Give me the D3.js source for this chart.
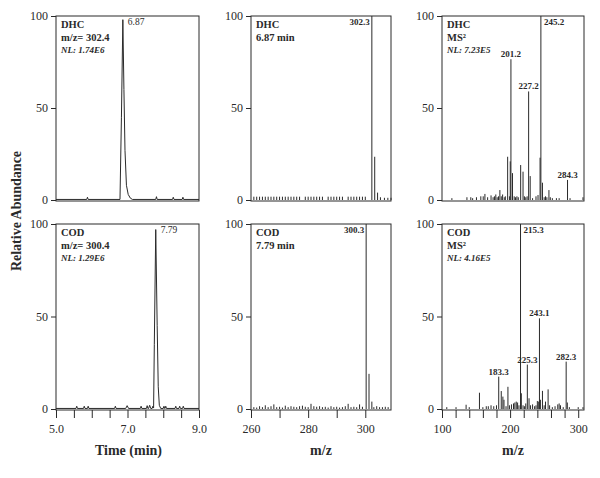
<!DOCTYPE html>
<html>
<head>
<meta charset="utf-8">
<script src="https://cdn.jsdelivr.net/npm/d3@7"></script>
<style>
  body { margin: 0; background: #fff; }
  svg { font-family: "Liberation Serif", "DejaVu Serif", serif; }
</style>
</head>
<body>
<svg width="600" height="478"></svg>
<script>
// chromatograms: [time (min), relative abundance]
const dhcChrom = [
  [5.0, 0.3], [5.86, 0.3], [5.88, 1.5], [5.90, 0.3], [6.79, 0.3], [6.83, 45], [6.87, 98],
  [6.90, 60], [6.93, 27], [6.97, 8], [7.02, 3], [7.08, 1], [7.14, 0.3], [7.79, 0.3],
  [7.81, 1.8], [7.83, 0.3], [8.26, 0.3], [8.28, 1.5], [8.30, 0.3], [8.53, 0.3], [8.55, 1.5],
  [8.57, 0.3], [9.0, 0.3]
];
const codChrom = [
  [5.0, 0.3], [5.56, 0.3], [5.58, 1.5], [5.60, 0.3], [5.77, 0.3], [5.79, 1.5], [5.81, 0.3],
  [5.88, 0.3], [5.90, 1.5], [5.92, 0.3], [6.64, 0.3], [6.66, 1.5], [6.68, 0.3], [6.95, 0.3],
  [6.99, 1.8], [7.03, 0.3], [7.36, 0.3], [7.38, 1.5], [7.40, 0.3], [7.53, 0.3], [7.55, 1.8],
  [7.57, 0.3], [7.59, 0.3], [7.62, 2], [7.65, 0.3], [7.69, 0.3], [7.71, 1.5], [7.73, 0.5],
  [7.75, 35], [7.79, 97], [7.83, 45], [7.86, 12], [7.89, 2], [7.93, 0.3], [8.00, 0.3],
  [8.02, 1.5], [8.04, 0.3], [8.05, 0.3], [8.07, 1.5], [8.09, 0.3], [8.33, 0.3], [8.35, 1.5],
  [8.37, 0.3], [8.44, 0.3], [8.46, 1.5], [8.48, 0.3], [8.54, 0.3], [8.56, 1.5], [8.58, 0.3],
  [9.0, 0.3]
];

// full scan spectra: m/z and relative abundance
const dhcMsMz = [261, 262, 263, 264, 265, 266, 267, 268, 269, 270, 271, 272, 273, 274, 275, 276, 277,
  279, 280, 281, 282, 283, 284, 285, 287, 288, 289, 290, 291, 292, 294, 295, 296, 297, 298, 299, 300,
  302.3, 303.3, 304.3, 305.3, 306.7, 307.9, 309];
const dhcMsAb = [1.8, 1.8, 1.8, 1.8, 1.8, 1.8, 1.8, 1.8, 1.8, 1.8, 1.8, 1.8, 1.8, 1.8, 1.8, 1.8, 1.8,
  1.8, 1.8, 1.8, 1.8, 1.8, 1.8, 1.8, 1.8, 1.8, 1.8, 1.8, 1.8, 1.8, 1.8, 1.8, 1.8, 1.8, 1.8, 1.8, 1.8,
  100, 23.5, 4, 1.5, 1.2, 1.2, 1.2];

const codMsMz = [261, 262, 263, 264, 265, 266, 267, 268, 269, 270, 271, 272, 273, 274, 275, 276, 277,
  278, 279, 280, 281, 282, 283, 284, 285, 286, 287, 288, 289, 290, 291, 292, 293, 294, 295, 296, 297,
  298, 299, 300.3, 301.3, 302.3, 303, 304, 305, 306, 307, 308];
const codMsAb = [1, 0.8, 1.5, 1, 2, 1, 1.5, 2.5, 1, 1.2, 0.8, 1.8, 1, 1.5, 1.2, 1, 1.5,
  1.8, 1.2, 1, 2.8, 1.5, 1.2, 1.5, 1, 1.2, 0.8, 1.5, 1, 1.2, 0.8, 1, 1.5, 2.8, 1, 1.2, 1,
  2.5, 1.2, 100, 19, 4, 1, 1.5, 1, 1, 1.2, 1];

// MS2 spectra
const dhcMs2Mz = [114.5, 136.6, 142.3, 145, 150.6, 157, 160.5, 163, 167, 172, 175, 177, 179, 181, 183,
  185, 187, 189, 191.4, 193, 196.4, 199, 200.2, 201.2, 203.5, 206, 208, 210, 212, 215.5, 219, 221,
  223, 225, 227.2, 229.5, 233, 238, 241, 244, 245.2, 247.5, 250, 252, 254, 257, 259, 262, 268, 272,
  284.3, 288, 307];
const dhcMs2Ab = [1, 1.5, 1.5, 1, 1.5, 2, 2, 3.3, 1.5, 2.5, 1.5, 2, 3, 1.5, 2,
  5.4, 2, 3, 1.5, 2, 23.5, 2, 21, 76.5, 14.6, 2, 1.5, 2, 1.5, 19, 15.4, 2,
  1.5, 2, 59, 13, 1, 2, 2.7, 23, 100, 9.4, 1.5, 2, 1.5, 5.4, 1.5, 1, 1, 1,
  10.9, 1, 1.5];

const codMs2Mz = [107, 120.6, 135.4, 140, 155, 160, 165, 168, 172, 176, 180, 183.3, 187, 189.4, 191,
  194, 196.8, 199, 202, 205, 207, 209, 211, 213, 215.3, 216.5, 219, 221, 223, 225.3, 227.8, 230,
  233, 236, 238, 240, 242, 243.1, 244.5, 247.5, 250, 252, 255.8, 258, 262, 266, 270, 272, 274, 278,
  282.3, 284, 287, 300, 307];
const codMs2Ab = [1, 1, 2.3, 1, 8.8, 1, 1.5, 1.5, 2, 1.5, 2, 17.5, 9.7, 6.7, 5,
  1.5, 12, 2, 2.5, 3, 3.5, 4, 3.5, 2, 100, 8.5, 2, 1.5, 3, 24, 5.8, 2,
  2.5, 1.5, 2, 4.3, 4, 49, 5, 9.8, 2, 4, 10.6, 2, 1, 1.5, 2.5, 3, 2, 1,
  25.6, 3.5, 1, 1, 1];

// labelled peaks
const dhcMs2Labels = [201.2, 227.2, 245.2, 284.3];
const codMs2Labels = [183.3, 215.3, 225.3, 243.1, 282.3];

// axes
const yTicks = [0, 50, 100];
const timeTicks = [5, 5.5, 6, 6.5, 7, 7.5, 8, 8.5, 9];
const timeLabels = ["5.0", "7.0", "9.0"];
const msTicks = [260, 270, 280, 290, 300];
const msLabels = ["260", "280", "300"];
const ms2Ticks = [100, 120, 140, 160, 180, 200, 220, 240, 260, 280, 300];
const ms2Labels = ["100", "200", "300"];

const svg = d3.select("svg");
const ink = "#2a2a2a";

const cols = [
  { range: [56, 199], domain: [5, 9], ticks: timeTicks, labels: timeLabels, fmt: d3.format(".1f"), title: "Time (min)" },
  { range: [251, 391], domain: [260, 309], ticks: msTicks, labels: msLabels, fmt: d3.format("d"), title: "m/z" },
  { range: [442, 584], domain: [100, 308.5], ticks: ms2Ticks, labels: ms2Labels, fmt: d3.format("d"), title: "m/z" }
];
const rows = [ [200, 16], [409, 224] ];

const panels = [
  { row: 0, col: 0, kind: "chrom", data: dhcChrom, peak: 6.87, text: [["DHC", "b"], ["m/z= 302.4", "b"], ["NL: 1.74E6", "i"]] },
  { row: 0, col: 1, kind: "ms", mz: dhcMsMz, ab: dhcMsAb, labels: [302.3], side: "left", text: [["DHC", "b"], ["6.87 min", "b"]] },
  { row: 0, col: 2, kind: "ms", mz: dhcMs2Mz, ab: dhcMs2Ab, labels: dhcMs2Labels, side: "right", text: [["DHC", "b"], ["MS²", "b"], ["NL: 7.23E5", "i"]] },
  { row: 1, col: 0, kind: "chrom", data: codChrom, peak: 7.79, text: [["COD", "b"], ["m/z= 300.4", "b"], ["NL: 1.29E6", "i"]] },
  { row: 1, col: 1, kind: "ms", mz: codMsMz, ab: codMsAb, labels: [300.3], side: "left", text: [["COD", "b"], ["7.79 min", "b"]] },
  { row: 1, col: 2, kind: "ms", mz: codMs2Mz, ab: codMs2Ab, labels: codMs2Labels, side: "right", text: [["COD", "b"], ["MS²", "b"], ["NL: 4.16E5", "i"]] }
];

panels.forEach(p => {
  const c = cols[p.col];
  const x = d3.scaleLinear().domain(c.domain).range(c.range);
  const y = d3.scaleLinear().domain([0, 100]).range(rows[p.row]);
  const g = svg.append("g");

  // frame
  g.append("rect")
    .attr("x", c.range[0]).attr("y", y(100))
    .attr("width", c.range[1] - c.range[0]).attr("height", y(0) - y(100) + 1)
    .attr("fill", "none").attr("stroke", ink).attr("stroke-width", 1);

  // y axis
  const ya = g.append("g").attr("transform", `translate(${c.range[0]},0)`)
    .call(d3.axisLeft(y).tickValues(yTicks).tickSize(5).tickPadding(3));
  ya.select(".domain").remove();
  ya.selectAll("line").attr("stroke", ink);
  ya.selectAll("text").attr("font-size", 12).attr("fill", ink).attr("font-family", "Liberation Serif");

  // x axis (bottom row only)
  if (p.row === 1) {
    const xa = g.append("g").attr("transform", `translate(0,${y(0) + 1})`)
      .call(d3.axisBottom(x).tickValues(c.ticks).tickSize(8).tickPadding(6)
        .tickFormat(d => c.labels.includes(c.fmt(d)) ? c.fmt(d) : ""));
    xa.select(".domain").remove();
    xa.selectAll("line").attr("stroke", ink);
    xa.selectAll("text").attr("font-size", 12).attr("fill", ink).attr("font-family", "Liberation Serif");
    svg.append("text")
      .attr("x", (c.range[0] + c.range[1]) / 2 + (p.col === 0 ? 1 : 0)).attr("y", 455)
      .attr("text-anchor", "middle").attr("font-size", 14).attr("font-weight", "bold")
      .attr("fill", ink).text(c.title);
  }

  if (p.kind === "chrom") {
    const line = d3.line().x(d => x(d[0])).y(d => y(d[1]));
    g.append("path").datum(p.data).attr("d", line)
      .attr("fill", "none").attr("stroke", ink).attr("stroke-width", 1);
    g.append("text")
      .attr("x", x(p.peak) + 5).attr("y", y(100) + 9)
      .attr("font-size", 9.5).attr("fill", ink).text(p.peak.toFixed(2));
  } else {
    g.selectAll("line.peak").data(p.mz).enter().append("line")
      .attr("class", "peak")
      .attr("x1", d => x(d)).attr("x2", d => x(d))
      .attr("y1", y(0)).attr("y2", (d, i) => y(p.ab[i]))
      .attr("stroke", ink).attr("stroke-width", 1);
    p.labels.forEach(m => {
      const v = p.ab[p.mz.indexOf(m)];
      const t = g.append("text").attr("font-size", 9).attr("font-weight", "bold")
        .attr("fill", ink).text(m.toFixed(1));
      if (v >= 99) {
        t.attr("y", y(100) + 9)
          .attr("x", p.side === "left" ? x(m) - 2 : x(m) + 3)
          .attr("text-anchor", p.side === "left" ? "end" : "start");
      } else {
        t.attr("x", x(m)).attr("y", y(v) - 2).attr("text-anchor", "middle");
      }
    });
  }

  // panel annotations
  p.text.forEach((tx, i) => {
    g.append("text")
      .attr("x", c.range[0] + 5).attr("y", y(100) + 12 + i * 12.5)
      .attr("font-size", tx[1] === "i" ? 9 : 10.5)
      .attr("font-weight", "bold")
      .attr("font-style", tx[1] === "i" ? "italic" : "normal")
      .attr("fill", ink).text(tx[0]);
  });
});

svg.append("text")
  .attr("transform", "translate(21,211) rotate(-90)")
  .attr("text-anchor", "middle").attr("font-size", 14).attr("font-weight", "bold")
  .attr("fill", ink).text("Relative Abundance");
</script>
</body>
</html>
